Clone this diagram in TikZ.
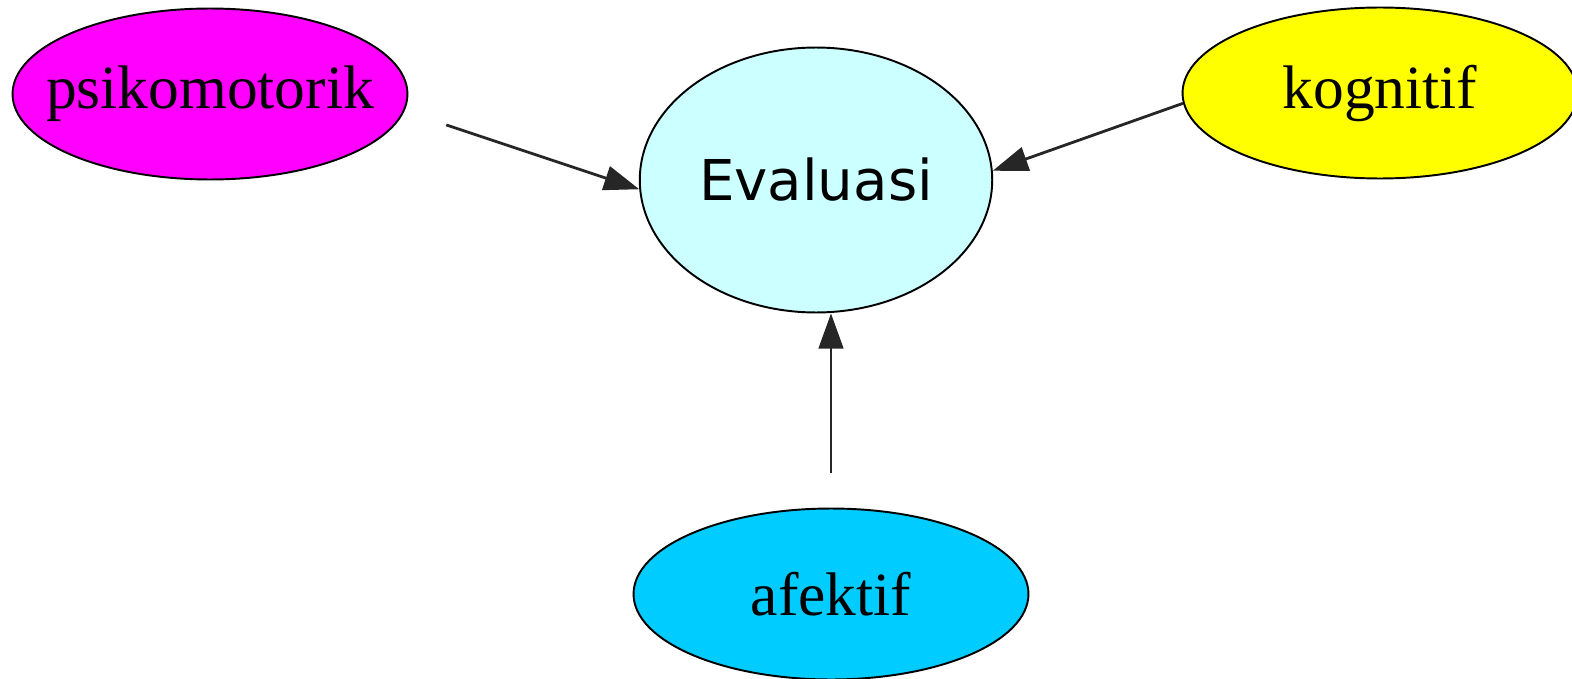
\documentclass[tikz,border=0pt]{standalone}
\usepackage{fontspec}
\setmainfont{Liberation Serif}
\newfontfamily\evalfont{DejaVu Sans}
\usetikzlibrary{shapes.geometric,arrows.meta}

\definecolor{psikocol}{HTML}{FF00FF}
\definecolor{kogcol}{HTML}{FFFF00}
\definecolor{afekcol}{HTML}{00CCFF}
\definecolor{evalcol}{HTML}{CCFFFF}

\tikzset{
  aspekbox/.style={draw, ellipse, line width=1.1pt, inner xsep=-0.6cm, inner ysep=0pt,
    minimum width=7.9cm, minimum height=3.42cm,
    font=\fontsize{35}{40}\selectfont},
  evalbox/.style={draw, ellipse, line width=1.1pt, inner sep=0pt, fill=evalcol,
    minimum width=7.05cm, minimum height=5.3cm,
    font=\evalfont\fontsize{32}{36}\selectfont},
  link/.style={-{Triangle[length=20pt,width=14pt]}, line width=1.6pt, color=black!85}
}

\begin{document}
\begin{tikzpicture}[x=0.02cm, y=-0.02cm]

     \useasboundingbox (0,0) rectangle (1572,679);

     \node (eval) at (816, 180) [evalbox] {Evaluasi};
     \node (psiko) at (210, 94) [aspekbox, fill=psikocol] {psikomotorik};
     \node (kog) at (1380, 93) [aspekbox, fill=kogcol] {kognitif};
     \node (afek) at (831, 594) [aspekbox, fill=afekcol] {afektif};

     \draw [link, shorten <=0.88cm] (psiko.-5) -- (eval.183);
     \draw [link] (kog.183) -- (eval.3);
     \draw [link, shorten <=0.7cm] (afek.north) -- (afek.north |- eval.south);

\end{tikzpicture}
\end{document}
